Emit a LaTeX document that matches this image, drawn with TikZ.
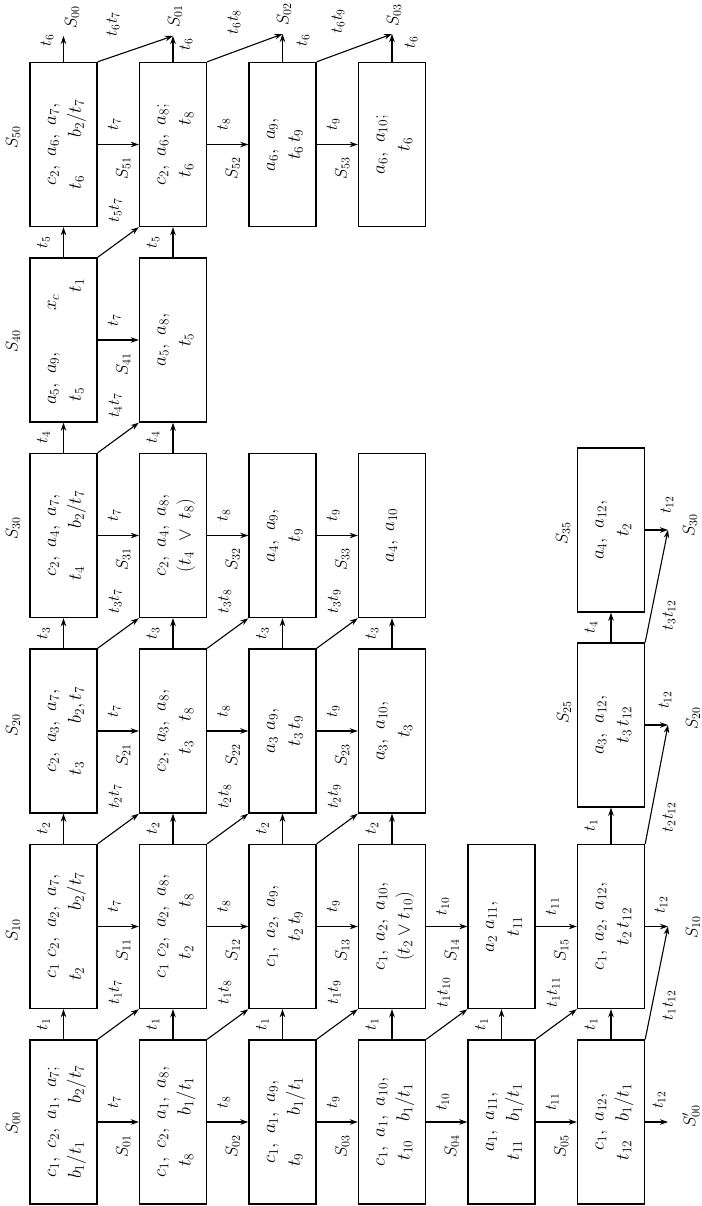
\RequirePackage{fix-cm}
\documentclass[tikz,border=0pt]{standalone}
\usetikzlibrary{arrows.meta,calc}
\newcommand\bxt[2]{\rotatebox{90}{$\begin{array}{@{}c@{}}#1\\#2\end{array}$}}
\newcommand\sk{\hspace{6pt}}
% horizontal connector: from, to, t-label, S-label
\newcommand\hc[4]{%
  \draw[ar] (#1.east) -- (#2.west);
  \node[tl] (#1#2t) at ($(#1.east)!0.5!(#2.west)+(-4,-20)$) {$#3$};
  \node[sl] (#1#2s) at ($(#1.east)!0.5!(#2.west)+(5,24)$) {$#4$};}
% vertical connector
\newcommand\vc[3]{%
  \draw[ar] (#1.north) -- (#2.south);
  \node[tl] (#1#2t) at ($(#1.north)!0.5!(#2.south)+(-20,0)$) {$#3$};}
% diagonal connector
\newcommand\dc[3]{%
  \draw[ar] (#1.north east) -- (#2.south west);
  \node[tl] (#1#2t) at ($(#1.north east)!0.5!(#2.south west)+(-3,-32)$) {$#3$};}
\begin{document}
\begin{tikzpicture}[x=1pt,y=-1pt,
  bx/.style={draw,line width=1.4pt,minimum width=67pt,minimum height=164pt,inner sep=0pt,font=\fontsize{19}{25}\selectfont},
  ar/.style={line width=1.1pt,-{Stealth[length=8pt,width=5.5pt]}},
  tl/.style={rotate=90,inner sep=0pt,font=\fontsize{16.5}{18}\selectfont},
  sl/.style={rotate=90,inner sep=0pt,font=\fontsize{17}{19}\selectfont}]
\useasboundingbox (0,0) rectangle (701,1206);

% ---- boxes: s<i><j> at (cx[j], cy[i])
\node[bx] (s00) at (63.5,1122)  {\bxt{c_1,\sk c_2,\sk a_1,\sk a_7;}{b_1/t_1\qquad b_2/t_7}};
\node[bx] (s10) at (63.5,926.5) {\bxt{c_1\sk c_2,\sk a_2,\sk a_7,}{t_2\qquad\quad b_2/t_7}};
\node[bx] (s20) at (63.5,731)   {\bxt{c_2,\sk a_3,\sk a_7,}{t_3\qquad b_2,t_7}};
\node[bx] (s30) at (63.5,535.5) {\bxt{c_2,\sk a_4,\sk a_7,}{t_4\qquad b_2/t_7}};
\node[bx] (s40) at (63.5,340)   {\bxt{a_5,\sk a_9,\qquad x_c\quad}{t_5\qquad\qquad\quad t_1}};
\node[bx] (s50) at (63.5,144.5) {\bxt{c_2,\sk a_6,\sk a_7,}{t_6\qquad b_2/t_7}};

\node[bx] (s01) at (173,1122)  {\bxt{c_1,\sk c_2,\sk a_1,\sk a_8,}{t_8\qquad b_1/t_1}};
\node[bx] (s11) at (173,926.5) {\bxt{c_1\sk c_2,\sk a_2,\sk a_8,}{t_2\qquad t_8}};
\node[bx] (s21) at (173,731)   {\bxt{c_2,\sk a_3,\sk a_8,}{t_3\quad t_8}};
\node[bx] (s31) at (173,535.5) {\bxt{c_2,\sk a_4,\sk a_8,}{(t_4\ \vee\ t_8)}};
\node[bx] (s41) at (173,340)   {\bxt{a_5,\sk a_8,}{t_5}};
\node[bx] (s51) at (173,144.5) {\bxt{c_2,\sk a_6,\sk a_8;}{t_6\qquad t_8}};

\node[bx] (s02) at (282.5,1122)  {\bxt{c_1,\sk a_1,\sk a_9,}{t_9\qquad b_1/t_1}};
\node[bx] (s12) at (282.5,926.5) {\bxt{c_1,\sk a_2,\sk a_9,}{t_2\,t_9}};
\node[bx] (s22) at (282.5,731)   {\bxt{a_3\sk a_9,}{t_3\,t_9}};
\node[bx] (s32) at (282.5,535.5) {\bxt{a_4,\sk a_9,}{t_9}};
\node[bx] (s52) at (282.5,144.5) {\bxt{a_6,\sk a_9,}{t_6\,t_9}};

\node[bx] (s03) at (392,1122)  {\bxt{c_1,\sk a_1,\sk a_{10},}{t_{10}\quad b_1/t_1}};
\node[bx] (s13) at (392,926.5) {\bxt{c_1,\sk a_2,\sk a_{10},}{(t_2\vee t_{10})}};
\node[bx] (s23) at (392,731)   {\bxt{a_3,\sk a_{10},}{t_3}};
\node[bx] (s33) at (392,535.5) {\rotatebox{90}{$a_4,\sk a_{10}$}};
\node[bx] (s53) at (392,144.5) {\bxt{a_6,\sk a_{10};}{t_6}};

\node[bx] (s04) at (501.5,1122)  {\bxt{a_1,\sk a_{11},}{t_{11}\quad b_1/t_1}};
\node[bx] (s14) at (501.5,926.5) {\bxt{a_2\sk a_{11},}{t_{11}}};

\node[bx] (s05) at (611,1122)  {\bxt{c_1,\sk a_{12},}{t_{12}\quad b_1/t_1}};
\node[bx] (s15) at (611,926.5) {\bxt{c_1,\sk a_2,\sk a_{12},}{t_2\,t_{12}}};
\node[bx] (s25) at (611,725)   {\bxt{a_3,\sk a_{12},}{t_3\,t_{12}}};
\node[bx] (s35) at (611,530) {\bxt{a_4,\sk a_{12},}{t_2}};

% ---- state labels left of first column and of S25, S35
\node[sl] (l00) at (13,1123) {$S_{00}$};
\node[sl] (l10) at (13,930) {$S_{10}$};
\node[sl] (l20) at (13,725) {$S_{20}$};
\node[sl] (l30) at (13,528) {$S_{30}$};
\node[sl] (l40) at (13,341) {$S_{40}$};
\node[sl] (l50) at (13,137) {$S_{50}$};
\node[sl] (l25) at (564,712) {$S_{25}$};
\node[sl] (l35) at (563,533) {$S_{35}$};

% ---- horizontal connectors
\hc{s00}{s01}{t_7}{S_{01}}
\hc{s01}{s02}{t_8}{S_{02}}
\hc{s02}{s03}{t_9}{S_{03}}
\hc{s03}{s04}{t_{10}}{S_{04}}
\hc{s04}{s05}{t_{11}}{S_{05}}
\hc{s10}{s11}{t_7}{S_{11}}
\hc{s11}{s12}{t_8}{S_{12}}
\hc{s12}{s13}{t_9}{S_{13}}
\hc{s13}{s14}{t_{10}}{S_{14}}
\hc{s14}{s15}{t_{11}}{S_{15}}
\hc{s20}{s21}{t_7}{S_{21}}
\hc{s21}{s22}{t_8}{S_{22}}
\hc{s22}{s23}{t_9}{S_{23}}
\hc{s30}{s31}{t_7}{S_{31}}
\hc{s31}{s32}{t_8}{S_{32}}
\hc{s32}{s33}{t_9}{S_{33}}
\hc{s40}{s41}{t_7}{S_{41}}
\hc{s50}{s51}{t_7}{S_{51}}
\hc{s51}{s52}{t_8}{S_{52}}
\hc{s52}{s53}{t_9}{S_{53}}

% ---- vertical connectors
\vc{s00}{s10}{t_1}
\vc{s10}{s20}{t_2}
\vc{s20}{s30}{t_3}
\vc{s30}{s40}{t_4}
\vc{s40}{s50}{t_5}
\vc{s01}{s11}{t_1}
\vc{s11}{s21}{t_2}
\vc{s21}{s31}{t_3}
\vc{s31}{s41}{t_4}
\vc{s41}{s51}{t_5}
\vc{s02}{s12}{t_1}
\vc{s12}{s22}{t_2}
\vc{s22}{s32}{t_3}
\vc{s03}{s13}{t_1}
\vc{s13}{s23}{t_2}
\vc{s23}{s33}{t_3}
\vc{s04}{s14}{t_1}
\vc{s05}{s15}{t_1}
\vc{s15}{s25}{t_1}
\vc{s25}{s35}{t_4}

% ---- diagonal connectors
\dc{s00}{s11}{t_1t_7}
\dc{s10}{s21}{t_2t_7}
\dc{s20}{s31}{t_3t_7}
\dc{s30}{s41}{t_4t_7}
\dc{s40}{s51}{t_5t_7}
\dc{s01}{s12}{t_1t_8}
\dc{s11}{s22}{t_2t_8}
\dc{s21}{s32}{t_3t_8}
\dc{s02}{s13}{t_1t_9}
\dc{s12}{s23}{t_2t_9}
\dc{s22}{s33}{t_3t_9}
\dc{s03}{s14}{t_1t_{10}}
\dc{s04}{s15}{t_1t_{11}}

% ---- outputs at the top
\coordinate (u0) at (63.5,36);
\coordinate (u1) at (173,36);
\coordinate (u2) at (282.5,34);
\coordinate (u3) at (392,34);
\draw[ar] (s50.north) -- (u0);
\draw[ar] (s51.north) -- (u1);
\draw[ar] (s52.north) -- (u2);
\draw[ar] (s53.north) -- (u3);
\draw[ar] (s50.north east) -- (u1);
\draw[ar] (s51.north east) -- (u2);
\draw[ar] (s52.north east) -- (u3);
\node[tl] (u0t) at (47,40) {$t_6$};
\node[sl] (u0s) at (72,17) {$S_{00}$};
\node[sl] (u1s) at (175,16) {$S_{01}$};
\node[tl] (u1t) at (186,44) {$t_6$};
\node[sl] (u2s) at (284,14) {$S_{02}$};
\node[tl] (u2t) at (303,40) {$t_6$};
\node[sl] (u3s) at (394,15) {$S_{03}$};
\node[tl] (u3t) at (411,42) {$t_6$};
\node[tl] (d0t) at (113,24) {$t_6t_7$};
\node[tl] (d1t) at (234,22) {$t_6t_8$};
\node[tl] (d2t) at (338,21) {$t_6t_9$};

% ---- outputs at the right
\coordinate (v0) at (668,1122);
\coordinate (v1) at (668,926.5);
\coordinate (v2) at (668,725);
\coordinate (v3) at (668,530);
\draw[ar] (s05.east) -- (v0);
\draw[ar] (s15.east) -- (v1);
\draw[ar] (s25.east) -- (v2);
\draw[ar] (s35.east) -- (v3);
\draw[ar] (s05.north east) -- (v1);
\draw[ar] (s15.north east) -- (v2);
\draw[ar] (s25.north east) -- (v3);
\node[tl] (v0t) at (659,1100) {$t_{12}$};
\node[sl] (v0s) at (691,1116) {$S'_{00}$};
\node[tl] (v1t) at (661,905) {$t_{12}$};
\node[sl] (v1s) at (693,927) {$S_{10}$};
\node[tl] (v2t) at (665,700) {$t_{12}$};
\node[sl] (v2s) at (693,718) {$S_{20}$};
\node[tl] (v3t) at (667,505) {$t_{12}$};
\node[sl] (v3s) at (690,525) {$S_{30}$};
\node[tl] (e0t) at (669,1005) {$t_1t_{12}$};
\node[tl] (e1t) at (669,817) {$t_2t_{12}$};
\node[tl] (e2t) at (669,615) {$t_3t_{12}$};
\end{tikzpicture}
\end{document}
